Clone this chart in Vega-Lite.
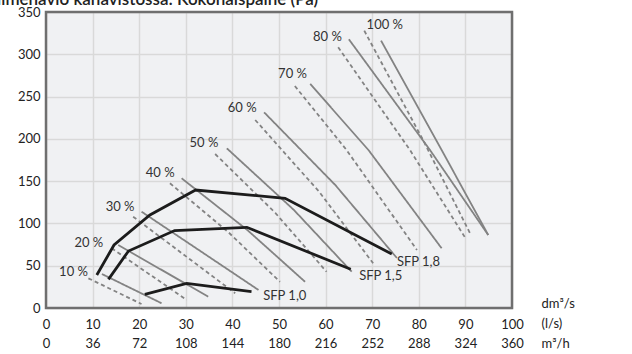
{
  "$schema": "https://vega.github.io/schema/vega-lite/v6.json",
  "width": 466,
  "height": 296,
  "autosize": {"type": "none"},
  "padding": {"left": 46, "top": 12, "right": 120, "bottom": 46},
  "datasets": {
    "curves": [
      {"id": "10d", "kind": "dashed", "x": 9.1, "y": 35.1}, {"id": "10d", "kind": "dashed", "x": 20.5, "y": 4.7},
      {"id": "10s", "kind": "solid", "x": 12.0, "y": 40.2}, {"id": "10s", "kind": "solid", "x": 24.8, "y": 5.6},
      {"id": "20d", "kind": "dashed", "x": 14.1, "y": 70.6}, {"id": "20d", "kind": "dashed", "x": 30.2, "y": 9.5},
      {"id": "20s", "kind": "solid", "x": 15.5, "y": 74.5}, {"id": "20s", "kind": "solid", "x": 34.8, "y": 13.4},
      {"id": "30d", "kind": "dashed", "x": 18.7, "y": 108.0}, {"id": "30d", "kind": "dashed", "x": 40.6, "y": 17.4},
      {"id": "30s", "kind": "solid", "x": 20.5, "y": 113.9}, {"id": "30s", "kind": "solid", "x": 45.6, "y": 21.3},
      {"id": "40d", "kind": "dashed", "x": 26.6, "y": 147.5}, {"id": "40d", "kind": "dashed", "x": 39.2, "y": 89.3}, {"id": "40d", "kind": "dashed", "x": 50.2, "y": 31.0},
      {"id": "40s", "kind": "solid", "x": 29.1, "y": 153.4}, {"id": "40s", "kind": "solid", "x": 43.2, "y": 92.2}, {"id": "40s", "kind": "solid", "x": 55.6, "y": 31.0},
      {"id": "50d", "kind": "dashed", "x": 36.3, "y": 182.1}, {"id": "50d", "kind": "dashed", "x": 49.2, "y": 112.5}, {"id": "50d", "kind": "dashed", "x": 60.2, "y": 42.9},
      {"id": "50s", "kind": "solid", "x": 38.8, "y": 188.8}, {"id": "50s", "kind": "solid", "x": 53.2, "y": 115.9}, {"id": "50s", "kind": "solid", "x": 65.6, "y": 42.9},
      {"id": "60d", "kind": "dashed", "x": 44.9, "y": 222.3}, {"id": "60d", "kind": "dashed", "x": 58.6, "y": 137.6}, {"id": "60d", "kind": "dashed", "x": 70.2, "y": 52.9},
      {"id": "60s", "kind": "solid", "x": 46.8, "y": 231.4}, {"id": "60s", "kind": "solid", "x": 62.1, "y": 145.3}, {"id": "60s", "kind": "solid", "x": 75.3, "y": 59.1},
      {"id": "70d", "kind": "dashed", "x": 53.4, "y": 262.5}, {"id": "70d", "kind": "dashed", "x": 64.5, "y": 186.8}, {"id": "70d", "kind": "dashed", "x": 79.6, "y": 68.6},
      {"id": "70s", "kind": "solid", "x": 56.7, "y": 264.9}, {"id": "70s", "kind": "solid", "x": 69.2, "y": 186.8}, {"id": "70s", "kind": "solid", "x": 84.9, "y": 70.6},
      {"id": "80d", "kind": "dashed", "x": 62.7, "y": 308.3}, {"id": "80d", "kind": "dashed", "x": 78.1, "y": 186.8}, {"id": "80d", "kind": "dashed", "x": 89.9, "y": 83.6},
      {"id": "80s", "kind": "solid", "x": 65.0, "y": 317.7}, {"id": "80s", "kind": "solid", "x": 82.4, "y": 186.8}, {"id": "80s", "kind": "solid", "x": 94.9, "y": 86.3},
      {"id": "100d", "kind": "dashed", "x": 68.3, "y": 327.9}, {"id": "100d", "kind": "dashed", "x": 80.9, "y": 198.7}, {"id": "100d", "kind": "dashed", "x": 91.0, "y": 88.3},
      {"id": "100s", "kind": "solid", "x": 71.9, "y": 316.1}, {"id": "100s", "kind": "solid", "x": 84.9, "y": 186.8}, {"id": "100s", "kind": "solid", "x": 94.9, "y": 86.3}
    ],
    "sfp": [
      {"id": "SFP 1,0", "x": 21.2, "y": 16.2}, {"id": "SFP 1,0", "x": 30.2, "y": 29.2}, {"id": "SFP 1,0", "x": 44.1, "y": 19.3},
      {"id": "SFP 1,5", "x": 13.4, "y": 33.9}, {"id": "SFP 1,5", "x": 17.7, "y": 67.4}, {"id": "SFP 1,5", "x": 27.6, "y": 91.6}, {"id": "SFP 1,5", "x": 43.1, "y": 95.4}, {"id": "SFP 1,5", "x": 65.4, "y": 45.8},
      {"id": "SFP 1,8", "x": 10.9, "y": 39.0}, {"id": "SFP 1,8", "x": 14.6, "y": 74.5}, {"id": "SFP 1,8", "x": 22.3, "y": 110.0}, {"id": "SFP 1,8", "x": 32.1, "y": 139.5}, {"id": "SFP 1,8", "x": 51.3, "y": 129.7}, {"id": "SFP 1,8", "x": 74.2, "y": 63.9}
    ],
    "pctLabels": [
      {"t": "10 %", "x": 5.9, "y": 42.6},
      {"t": "20 %", "x": 9.2, "y": 76.9},
      {"t": "30 %", "x": 15.9, "y": 119.4},
      {"t": "40 %", "x": 24.5, "y": 160.0},
      {"t": "50 %", "x": 33.9, "y": 195.1},
      {"t": "60 %", "x": 42.1, "y": 236.5},
      {"t": "70 %", "x": 52.9, "y": 276.7},
      {"t": "80 %", "x": 60.4, "y": 320.8},
      {"t": "100 %", "x": 72.7, "y": 334.6}
    ],
    "sfpLabels": [
      {"t": "SFP 1,0", "x": 46.6, "y": 14.2},
      {"t": "SFP 1,5", "x": 67.2, "y": 37.8},
      {"t": "SFP 1,8", "x": 75.3, "y": 54.7}
    ],
    "titleRow": [
      {"t": "ilmenävio kanavistossa: Kokonaispaine (Pa)", "x": 58.4, "y": 358.6}
    ]
  },
  "layer": [
    {
      "data": {"name": "curves"},
      "mark": {"type": "line", "color": "#838383", "strokeWidth": 1.8},
      "encoding": {
        "x": {"field": "x", "type": "quantitative", "scale": {"domain": [0, 100], "nice": false, "zero": false},
          "axis": {"values": [0, 10, 20, 30, 40, 50, 60, 70, 80, 90, 100], "labelExpr": "[datum.label, format(datum.value*3.6,'d')]", "labelLineHeight": 19, "labelPadding": 10, "labelBaseline": "top", "labelFlush": false, "labelOverlap": false,
            "title": ["dm³/s", "(l/s)", "m³/h"], "titleAlign": "left", "titleBaseline": "top", "titleX": 495, "titleY": -11, "titleLineHeight": 20}},
        "y": {"field": "y", "type": "quantitative", "scale": {"domain": [0, 350], "nice": false, "zero": false},
          "axis": {"values": [0, 50, 100, 150, 200, 250, 300, 350], "labelPadding": 6, "labelFlush": false, "labelOverlap": false, "title": null}},
        "detail": {"field": "id", "type": "nominal"},
        "strokeDash": {"field": "kind", "type": "nominal", "scale": {"domain": ["dashed", "solid"], "range": [[4, 3], [1, 0]]}, "legend": null}
      }
    },
    {
      "data": {"name": "sfp"},
      "mark": {"type": "line", "color": "#1c1c1c", "strokeWidth": 2.8},
      "encoding": {
        "x": {"field": "x", "type": "quantitative"},
        "y": {"field": "y", "type": "quantitative"},
        "detail": {"field": "id", "type": "nominal"}
      }
    },
    {
      "data": {"name": "pctLabels"},
      "mark": {"type": "text", "fontSize": 13, "color": "#333333", "align": "center", "baseline": "middle"},
      "encoding": {
        "x": {"field": "x", "type": "quantitative"},
        "y": {"field": "y", "type": "quantitative"},
        "text": {"field": "t", "type": "nominal"}
      }
    },
    {
      "data": {"name": "sfpLabels"},
      "mark": {"type": "text", "fontSize": 13, "color": "#333333", "align": "left", "baseline": "middle"},
      "encoding": {
        "x": {"field": "x", "type": "quantitative"},
        "y": {"field": "y", "type": "quantitative"},
        "text": {"field": "t", "type": "nominal"}
      }
    },
    {
      "data": {"name": "titleRow"},
      "mark": {"type": "text", "fontSize": 17, "fontWeight": 600, "color": "#222222", "align": "right", "baseline": "alphabetic"},
      "encoding": {
        "x": {"field": "x", "type": "quantitative"},
        "y": {"field": "y", "type": "quantitative"},
        "text": {"field": "t", "type": "nominal"}
      }
    },
    {
      "data": {"values": [{}]},
      "mark": {"type": "rect", "fill": null, "stroke": "#6f6f6f", "strokeWidth": 2.5},
      "encoding": {
        "x": {"datum": 0, "type": "quantitative"},
        "x2": {"datum": 100},
        "y": {"datum": 0, "type": "quantitative"},
        "y2": {"datum": 350}
      }
    }
  ],
  "config": {
    "font": "Lato",
    "view": {"fill": "#f0f1f3", "stroke": null},
    "axis": {"grid": true, "gridColor": "#d9d9d9", "gridWidth": 1.5, "domain": false, "ticks": false, "tickSize": 0,
      "labelFont": "Lato", "labelFontSize": 13, "labelColor": "#222222",
      "titleFont": "Lato", "titleFontSize": 13, "titleColor": "#222222", "titleFontWeight": "normal"},
    "text": {"font": "Lato"}
  }
}
